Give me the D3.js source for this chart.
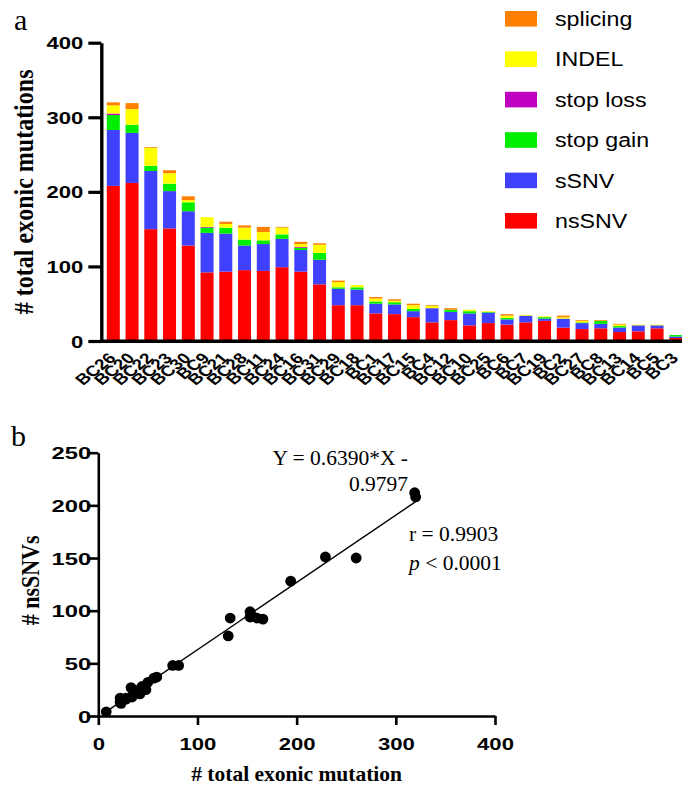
<!DOCTYPE html>
<html>
<head>
<meta charset="utf-8">
<script src="https://cdn.jsdelivr.net/npm/d3@7"></script>
<style>
  body { margin: 0; background: #fff; }
  svg { display: block; }
  .sans { font-family: 'Liberation Sans', Arial, sans-serif; }
  .serif { font-family: 'Liberation Serif', 'Times New Roman', serif; }
</style>
</head>
<body>
<svg id="fig" width="682" height="785"></svg>
<script>
// samples, sorted by total exonic mutations
const samples = ['BC26', 'BC20', 'BC22', 'BC23', 'BC30', 'BC9', 'BC21', 'BC28', 'BC11', 'BC24',
  'BC16', 'BC31', 'BC29', 'BC18', 'BC1', 'BC17', 'BC15', 'BC4', 'BC12', 'BC10', 'BC25',
  'BC6', 'BC7', 'BC19', 'BC2', 'BC27', 'BC8', 'BC13', 'BC14', 'BC5', 'BC3']

// mutation counts per sample
const nsSNV = [208, 212, 150, 151, 128, 92, 93, 95, 94, 99, 93, 76, 48, 48, 37, 36, 32, 25, 28, 21, 24, 22, 25, 27, 18, 16, 17, 12, 13, 17, 4]
const sSNV = [75, 67, 78, 50, 46, 53, 51, 33, 36, 38, 29, 33, 22, 21, 13, 13, 8, 19, 11, 16, 14, 7, 9, 3, 12, 8, 6, 6, 8, 4, 2]
const stopGain = [20, 11, 7, 10, 12, 7, 8, 8, 5, 6, 3, 9, 2, 3, 3, 3, 3, 0, 3, 3, 1, 2, 0, 2, 0, 1, 4, 2, 0, 0, 2]
const stopLoss = [2, 0, 0, 0, 0, 1, 0, 0, 0, 0, 1, 0, 0, 0, 0, 0, 0, 0, 0, 0, 0, 0, 0, 0, 0, 0, 0, 0, 0, 0, 0]
const indel = [11, 21, 24, 14, 3, 13, 5, 16, 11, 9, 4, 11, 7, 3, 4, 2, 5, 3, 0, 2, 1, 3, 1, 1, 2, 2, 0, 2, 1, 1, 0]
const splicing = [4, 8, 1, 4, 5, 0, 3, 3, 7, 1, 3, 2, 2, 0, 2, 2, 2, 1, 2, 0, 0, 2, 0, 0, 2, 1, 1, 1, 0, 0, 0]

const types = ['nsSNV', 'sSNV', 'stop gain', 'stop loss', 'INDEL', 'splicing']
const typeColors = ['#ff0000', '#4040ff', '#00ee00', '#c000c0', '#ffff00', '#ff8000']
const legendOrder = ['splicing', 'INDEL', 'stop loss', 'stop gain', 'sSNV', 'nsSNV']

const barTicks = [0, 100, 200, 300, 400]
const scatterXTicks = [0, 100, 200, 300, 400]
const scatterYTicks = [0, 50, 100, 150, 200, 250]

// regression reported in the figure
const slope = 0.6390
const intercept = -0.9797
const fitLabel = ['Y = 0.6390*X -', '0.9797']
const statLabel = ['r = 0.9903', '< 0.0001']

const svg = d3.select('#fig')
svg.append('rect').attr('width', 682).attr('height', 785).attr('fill', '#fff')

// ---------------- panel a: stacked bars ----------------
const rows = samples.map((s, i) => ({
  sample: s,
  nsSNV: nsSNV[i],
  sSNV: sSNV[i],
  'stop gain': stopGain[i],
  'stop loss': stopLoss[i],
  INDEL: indel[i],
  splicing: splicing[i]
}))
const stacked = d3.stack().keys(types)(rows)

const xBar = d3.scaleBand()
  .domain(samples)
  .range([101.5, 687.6])
  .paddingInner(0.307)
  .paddingOuter(0.283)

const yBar = d3.scaleLinear().domain([0, 400]).range([341, 42.7])
const color = d3.scaleOrdinal().domain(types).range(typeColors)

svg.append('g')
  .selectAll('g')
  .data(stacked)
  .join('g')
  .attr('fill', d => color(d.key))
  .selectAll('rect')
  .data(d => d)
  .join('rect')
  .attr('x', d => xBar(d.data.sample))
  .attr('width', xBar.bandwidth())
  .attr('y', d => yBar(d[1]))
  .attr('height', d => yBar(d[0]) - yBar(d[1]))

// y axis
const yAxisA = svg.append('g')
  .attr('transform', 'translate(101.3,0)')
  .call(d3.axisLeft(yBar).tickValues(barTicks).tickSize(13).tickSizeOuter(0))
yAxisA.select('.domain').attr('stroke-width', 3.4)
yAxisA.selectAll('.tick line').attr('stroke-width', 3.2)
yAxisA.selectAll('.tick text')
  .attr('class', 'sans')
  .attr('x', null)
  .attr('dy', '0.36em')
  .attr('transform', 'translate(-18,0) scale(1.3,1)')
  .attr('font-size', 17)
  .attr('font-weight', 'bold')
  .attr('fill', '#000')

// x axis line
svg.append('line')
  .attr('x1', 100).attr('x2', 682)
  .attr('y1', yBar(0) + 0.3).attr('y2', yBar(0) + 0.3)
  .attr('stroke', '#000').attr('stroke-width', 3.4)

// sample labels
svg.append('g')
  .selectAll('text')
  .data(samples)
  .join('text')
  .attr('class', 'sans')
  .attr('font-size', 15)
  .attr('font-weight', 'bold')
  .attr('text-anchor', 'end')
  .attr('transform', d => `translate(${xBar(d) + xBar.bandwidth() / 2 + 3.5},359) scale(1.25,1) rotate(-45)`)
  .text(d => d)

svg.append('text')
  .attr('class', 'serif')
  .attr('font-size', 24)
  .attr('font-weight', 'bold')
  .attr('text-anchor', 'middle')
  .attr('transform', `translate(33,${yBar(200)}) scale(1.15,1) rotate(-90)`)
  .text('# total exonic mutations')

svg.append('text')
  .attr('class', 'serif')
  .attr('x', 14).attr('y', 30)
  .attr('font-size', 30)
  .text('a')

// legend
const legend = svg.append('g')
  .selectAll('g')
  .data(legendOrder)
  .join('g')
  .attr('transform', (d, i) => `translate(505,${18.8 + i * 40.4})`)
legend.append('rect')
  .attr('y', -7.8).attr('width', 32).attr('height', 15.6)
  .attr('fill', d => color(d))
legend.append('text')
  .attr('class', 'sans')
  .attr('font-size', 20)
  .attr('transform', 'translate(50,7.2) scale(1.16,1)')
  .text(d => d)

// ---------------- panel b: scatter ----------------
const totals = rows.map(r => types.reduce((s, k) => s + r[k], 0))
const points = samples.map((s, i) => ({ total: totals[i], ns: nsSNV[i] }))

const xSc = d3.scaleLinear().domain([0, 400]).range([98.3, 495])
const ySc = d3.scaleLinear().domain([0, 250]).range([716, 452.7])

const xAxisB = svg.append('g')
  .attr('transform', `translate(0,${ySc(0)})`)
  .call(d3.axisBottom(xSc).tickValues(scatterXTicks).tickSize(9).tickSizeOuter(0))
const yAxisB = svg.append('g')
  .attr('transform', `translate(${xSc(0)},0)`)
  .call(d3.axisLeft(ySc).tickValues(scatterYTicks).tickSize(11).tickSizeOuter(0))

xAxisB.selectAll('.domain, .tick line').attr('stroke-width', 2.6)
yAxisB.selectAll('.domain, .tick line').attr('stroke-width', 2.6)

xAxisB.selectAll('.tick text')
  .attr('class', 'sans')
  .attr('y', null).attr('dy', null)
  .attr('transform', 'translate(0,34) scale(1.3,1)')
  .attr('font-size', 17)
  .attr('font-weight', 'bold')
  .attr('fill', '#000')
yAxisB.selectAll('.tick text')
  .attr('class', 'sans')
  .attr('x', null)
  .attr('dy', '0.36em')
  .attr('transform', 'translate(-7,0) scale(1.4,1)')
  .attr('font-size', 17)
  .attr('font-weight', 'bold')
  .attr('fill', '#000')

// fitted line across the observed range
const xExt = d3.extent(totals)
svg.append('line')
  .attr('x1', xSc(xExt[0])).attr('y1', ySc(slope * xExt[0] + intercept))
  .attr('x2', xSc(xExt[1])).attr('y2', ySc(slope * xExt[1] + intercept))
  .attr('stroke', '#000').attr('stroke-width', 1.4)

svg.append('g')
  .selectAll('circle')
  .data(points)
  .join('circle')
  .attr('cx', d => xSc(d.total))
  .attr('cy', d => ySc(d.ns))
  .attr('r', 5.4)
  .attr('fill', '#000')

svg.append('text')
  .attr('class', 'serif')
  .attr('x', xSc(200)).attr('y', 781)
  .attr('font-size', 21.5)
  .attr('font-weight', 'bold')
  .attr('text-anchor', 'middle')
  .text('# total exonic mutation')

svg.append('text')
  .attr('class', 'serif')
  .attr('font-size', 22)
  .attr('font-weight', 'bold')
  .attr('text-anchor', 'middle')
  .attr('transform', `translate(39,${ySc(125) - 4}) scale(1.15,1) rotate(-90)`)
  .text('# nsSNVs')

svg.append('text')
  .attr('class', 'serif')
  .attr('x', 11).attr('y', 446)
  .attr('font-size', 30)
  .text('b')

const fit = svg.append('g').attr('class', 'serif').attr('font-size', 21.5).attr('text-anchor', 'end')
fit.append('text').attr('x', 408).attr('y', 465).text(fitLabel[0])
fit.append('text').attr('x', 408).attr('y', 491).text(fitLabel[1])

const stat = svg.append('g').attr('class', 'serif').attr('font-size', 21.5)
stat.append('text').attr('x', 409).attr('y', 541).text(statLabel[0])
const pLine = stat.append('text').attr('x', 409).attr('y', 570)
pLine.append('tspan').attr('font-style', 'italic').text('p')
pLine.append('tspan').text(' ' + statLabel[1])
</script>
</body>
</html>
